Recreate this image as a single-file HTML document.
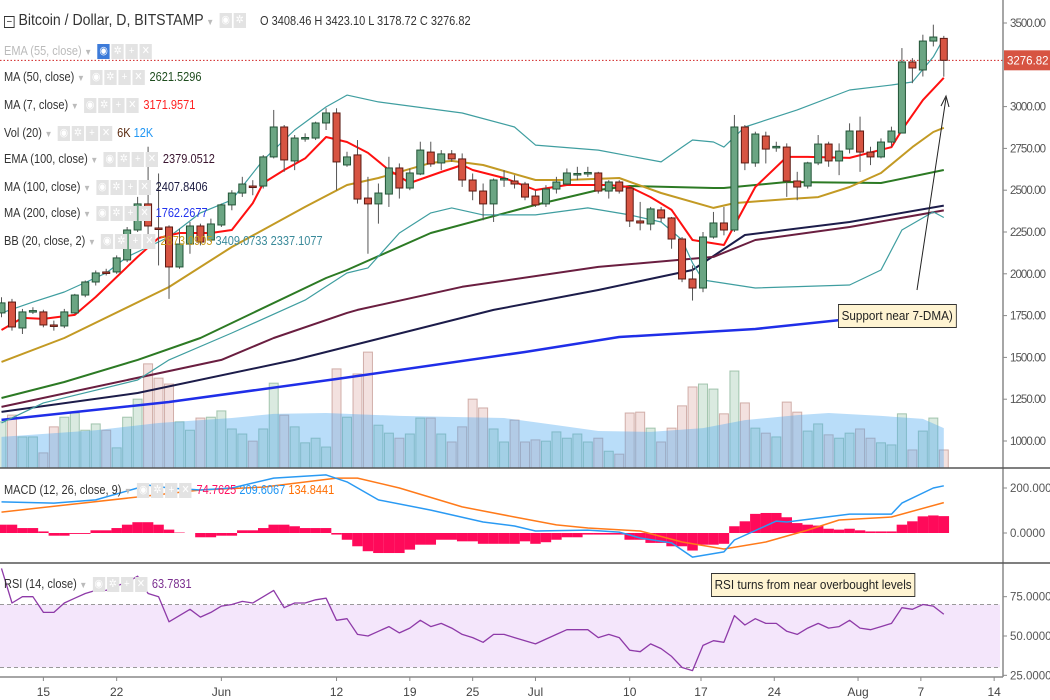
<!DOCTYPE html>
<html><head><meta charset="utf-8"><style>
body{margin:0;background:#fff;}
#wrap{position:relative;width:1050px;height:700px;overflow:hidden;font-family:"Liberation Sans",sans-serif;}
svg{position:absolute;left:0;top:0;}
.lg{position:absolute;font-size:12.5px;color:#333;white-space:nowrap;line-height:14px;transform:scaleX(0.88);transform-origin:left center;}
.bx{display:inline-block;width:14px;height:15px;background:#e3e3e3;margin-right:2px;vertical-align:middle;color:#fff;font-size:11px;text-align:center;line-height:15px;}
.dd{color:#bbb;font-size:9px;margin:0 6px 0 3px;}
.note{position:absolute;background:#fff4d2;border:1px solid #333;font-size:13px;color:#222;padding:0 3px;line-height:22px;transform:scaleX(0.9);transform-origin:left center;}
</style></head><body>
<div id="wrap">
<svg id="svg" width="1050" height="700"></svg>

<div class="lg" style="left:4px;top:12px;font-size:16px;line-height:18px"><span style="border:1px solid #333;font-size:11px;line-height:10px;display:inline-block;width:10px;text-align:center">−</span> Bitcoin / Dollar, D, BITSTAMP<span class="dd">▼</span><span class="bx">◉</span><span class="bx">✲</span></div>
<div class="lg" style="left:260px;top:14px">O 3408.46 H 3423.10 L 3178.72 C 3276.82</div>
<div class="lg" style="left:4px;top:44px;color:#bbb">EMA (55, close)<span class="dd">▼</span><span class="bx" style="background:#3d7bd9">◉</span><span class="bx">✲</span><span class="bx">+</span><span class="bx">✕</span></div>
<div class="lg" style="left:4px;top:70px">MA (50, close)<span class="dd">▼</span><span class="bx">◉</span><span class="bx">✲</span><span class="bx">+</span><span class="bx">✕</span> <span style="color:#1f4d1f">2621.5296</span></div>
<div class="lg" style="left:4px;top:98px">MA (7, close)<span class="dd">▼</span><span class="bx">◉</span><span class="bx">✲</span><span class="bx">+</span><span class="bx">✕</span> <span style="color:#f22">3171.9571</span></div>
<div class="lg" style="left:4px;top:126px">Vol (20)<span class="dd">▼</span><span class="bx">◉</span><span class="bx">✲</span><span class="bx">+</span><span class="bx">✕</span> <span style="color:#5a2a10">6K</span> <span style="color:#2196f3">12K</span></div>
<div class="lg" style="left:4px;top:152px">EMA (100, close)<span class="dd">▼</span><span class="bx">◉</span><span class="bx">✲</span><span class="bx">+</span><span class="bx">✕</span> <span style="color:#3a1530">2379.0512</span></div>
<div class="lg" style="left:4px;top:180px">MA (100, close)<span class="dd">▼</span><span class="bx">◉</span><span class="bx">✲</span><span class="bx">+</span><span class="bx">✕</span> <span style="color:#1a1a40">2407.8406</span></div>
<div class="lg" style="left:4px;top:206px">MA (200, close)<span class="dd">▼</span><span class="bx">◉</span><span class="bx">✲</span><span class="bx">+</span><span class="bx">✕</span> <span style="color:#2233ee">1762.2677</span></div>
<div class="lg" style="left:4px;top:234px">BB (20, close, 2)<span class="dd">▼</span><span class="bx">◉</span><span class="bx">✲</span><span class="bx">+</span><span class="bx">✕</span> <span style="color:#c89a1a">2873.0905</span> <span style="color:#3a8a9a">3409.0733</span> <span style="color:#3a8a9a">2337.1077</span></div>
<div class="lg" style="left:4px;top:483px">MACD (12, 26, close, 9)<span class="dd">▼</span><span class="bx">◉</span><span class="bx">✲</span><span class="bx">+</span><span class="bx">✕</span> <span style="color:#ff1060">74.7625</span> <span style="color:#2196f3">209.6067</span> <span style="color:#ff6d00">134.8441</span></div>
<div class="lg" style="left:4px;top:577px">RSI (14, close)<span class="dd">▼</span><span class="bx">◉</span><span class="bx">✲</span><span class="bx">+</span><span class="bx">✕</span> <span style="color:#7b2f8f">63.7831</span></div>
<div class="note" style="left:838px;top:304px">Support near 7-DMA)</div>
<div class="note" style="left:711px;top:573px">RSI turns from near overbought levels</div>
</div>
<script>
const days=[];for(let d=-4;d<=86;d++)days.push(d);
const opens=[1766,1831,1676,1775,1772,1694,1688,1766,1873,1951,2011,2011,2083,2262,2418,2274,2280,2041,2178,2286,2202,2292,2412,2483,2525,2525,2699,2878,2675,2812,2812,2902,2962,2651,2711,2453,2418,2477,2633,2513,2597,2728,2663,2717,2687,2561,2495,2418,2567,2555,2537,2465,2418,2507,2537,2597,2603,2603,2495,2549,2513,2316,2298,2382,2334,2208,1969,1915,2220,2304,2262,2878,2663,2824,2758,2758,2555,2525,2663,2776,2675,2746,2854,2728,2699,2788,2842,3267,3219,3392,3408];
const closes=[1826,1682,1772,1780,1694,1690,1772,1873,1951,2005,2008,2095,2262,2418,2286,2270,2041,2178,2286,2190,2298,2412,2483,2537,2520,2699,2878,2681,2812,2815,2902,2962,2669,2699,2447,2418,2483,2633,2513,2603,2740,2657,2717,2687,2561,2495,2418,2561,2570,2537,2459,2412,2507,2549,2603,2600,2606,2495,2549,2495,2316,2304,2388,2334,2208,1969,1915,2220,2304,2262,2878,2663,2836,2746,2762,2555,2519,2663,2776,2675,2734,2854,2728,2699,2788,2854,3267,3231,3392,3416,3277];
const highs=[1860,1850,1790,1800,1785,1720,1790,1880,1960,2020,2030,2110,2280,2460,2760,2600,2290,2270,2310,2300,2330,2420,2500,2580,2560,2710,2980,2890,2830,2840,2910,2990,2990,2730,2800,2580,2540,2700,2660,2630,2790,2790,2740,2740,2720,2600,2540,2570,2620,2590,2550,2500,2530,2580,2630,2640,2640,2610,2560,2560,2520,2430,2400,2400,2340,2220,2050,2250,2370,2400,2950,2890,2850,2850,2790,2780,2610,2670,2830,2790,2780,2900,2940,2760,2810,2880,3350,3290,3430,3490,3423];
const lows=[1740,1660,1640,1760,1680,1660,1675,1760,1860,1930,1990,2000,2070,2250,2230,2050,1850,2030,2120,2170,2190,2280,2380,2460,2470,2510,2690,2610,2620,2790,2800,2860,2500,2640,2420,2120,2300,2400,2450,2500,2590,2640,2620,2670,2520,2440,2320,2310,2520,2510,2440,2400,2400,2480,2530,2560,2580,2480,2450,2480,2280,2260,2260,2310,2150,1950,1840,1890,2210,2230,2250,2620,2640,2660,2730,2460,2440,2510,2650,2640,2590,2720,2610,2650,2690,2760,2840,3140,3180,3360,3179];
const volumes=[11.0,12.6,7.4,7.4,3.6,9.8,12.1,13.1,9.0,10.5,9.0,4.8,12.1,16.4,24.8,21.4,20.0,11.0,9.0,11.9,12.1,13.6,9.3,8.1,6.4,9.3,20.2,12.6,9.8,6.0,7.1,5.0,23.6,12.1,22.4,27.6,10.2,8.3,7.1,8.1,11.9,11.9,8.1,6.2,9.8,16.4,14.3,9.3,6.2,11.4,6.2,6.7,6.4,8.6,7.1,8.1,6.2,7.1,4.0,3.3,13.1,13.3,9.5,6.2,9.5,14.8,19.3,20.0,18.8,12.9,23.1,15.5,9.5,8.3,7.4,15.7,13.3,8.8,10.5,7.9,7.1,8.3,9.3,7.1,6.0,5.5,12.9,4.3,8.8,11.9,4.3];
const volMA=[[-4,7.4],[5,9.0],[11,10.7],[18,11.9],[22,12.9],[27,13.1],[34,12.4],[44,11.9],[49,10.2],[53,8.8],[58,8.6],[63,9.5],[67,11.4],[72,12.6],[75,13.1],[80,12.4],[84,11.7],[86,9.5]];
const ma7=[[-4,1664],[-2,1736],[0,1730],[3,1754],[5,1861],[9,2101],[11,2214],[13,2244],[16,2244],[18,2262],[20,2423],[21,2543],[23,2621],[25,2690],[27,2818],[29,2788],[31,2723],[33,2621],[35,2543],[38,2609],[40,2651],[41,2621],[44,2573],[47,2501],[50,2531],[54,2531],[56,2519],[58,2459],[60,2382],[62,2202],[65,2172],[68,2519],[71,2699],[73,2699],[77,2693],[81,2758],[82,2860],[84,3039],[86,3172]];
const bbMid=[[-4,1473],[2,1616],[12,1921],[18,2160],[25,2400],[29,2531],[32,2573],[37,2663],[39,2675],[42,2651],[47,2561],[50,2561],[55,2573],[59,2483],[64,2394],[66,2423],[71,2447],[74,2459],[77,2519],[80,2603],[83,2758],[85,2848],[86,2873]];
const bbUp=[[-4,1766],[-1,1831],[2,1891],[6,2005],[8,2101],[12,2220],[15,2364],[18,2442],[21,2681],[24,2860],[27,2998],[29,3069],[32,3028],[40,2962],[45,2878],[47,2770],[53,2740],[59,2669],[61,2758],[62,2800],[64,2788],[65,2758],[67,2878],[72,2980],[77,3099],[81,3129],[83,3147],[85,3297],[86,3409]];
const bbLow=[[-4,1108],[0,1228],[9,1365],[12,1485],[18,1646],[25,1843],[29,2005],[31,2035],[34,2244],[37,2364],[39,2394],[42,2352],[47,2352],[52,2394],[56,2352],[59,2310],[61,2202],[62,2065],[63,1963],[68,1915],[77,1933],[80,2023],[82,2262],[85,2370],[86,2337]];
const ma50=[[-4,1257],[2,1353],[9,1485],[15,1616],[27,1975],[29,2023],[37,2244],[47,2412],[53,2501],[56,2525],[64,2513],[65,2513],[71,2549],[80,2543],[86,2621]];
const ema100=[[-4,1204],[17,1485],[22,1616],[29,1766],[30,1784],[40,1922],[53,2041],[64,2101],[68,2202],[77,2280],[86,2379]];
const ma100=[[-4,1174],[9,1287],[24,1485],[43,1784],[53,1903],[62,2023],[67,2232],[77,2310],[86,2408]];
const ma200=[[-4,1126],[12,1233],[28,1371],[46,1532],[55,1622],[68,1670],[79,1742],[86,1762]];
const macdLine=[[-4,138],[1,133],[5,147],[9,200],[10,213],[12,200],[15,191],[18,200],[22,244],[27,258],[29,227],[32,147],[37,102],[42,49],[45,31],[47,9],[52,13],[55,4],[57,-22],[60,-44],[62,-107],[65,-84],[66,-31],[70,53],[71,49],[77,84],[81,84],[82,133],[85,200],[86,210]];
const signalLine=[[-4,93],[2,124],[9,160],[15,191],[21,204],[28,244],[30,244],[34,200],[40,116],[45,71],[49,36],[52,22],[57,9],[61,-40],[65,-71],[69,-40],[73,13],[76,58],[81,71],[86,135]];
const macdHist=[37,37,22,22,7,-12,-12,-4,-4,12,12,22,37,48,48,37,15,2,0,-19,-19,-12,-12,12,12,22,37,37,30,22,22,22,-7,-30,-59,-81,-89,-89,-89,-74,-52,-52,-30,-30,-37,-37,-48,-48,-48,-48,-37,-48,-41,-30,-19,-19,-7,-7,-7,-7,-30,-30,-44,-44,-59,-59,-78,-52,-52,-48,30,52,85,89,89,70,44,37,33,19,15,19,12,7,7,7,37,52,74,78,75];
const rsi=[93,71,75,75,65,65,71,74,77,79,79,82,84,88,77,75,59,63,67,62,65,69,70,72,71,75,79,68,71,71,73,74,60,61,51,50,53,56,52,55,60,56,58,55,51,49,46,51,51,49,47,45,48,51,54,54,54,49,51,49,41,40,45,42,37,30,28,44,47,46,63,57,61,58,58,53,51,55,58,55,56,60,55,54,56,58,68,67,70,69,63.8];
const priceTicks=[3500,3000,2750,2500,2250,2000,1750,1500,1250,1000];
const macdTicks=[200,0];
const rsiTicks=[75,50,25];
const dateLabels=[["15",0],["22",7],["Jun",17],["12",28],["19",35],["25",41],["Jul",47],["10",56],["17",63],["24",70],["Aug",78],["7",84],["14",91]];
const lastPrice=3276.82;

const NS="http://www.w3.org/2000/svg";
const svg=document.getElementById('svg');
const xD=d=>1.5+(d+4)*10.47;
const yP=p=>23+(3500-p)*0.1672;
const yV=v=>468-v*4.2;
const yM=v=>533-v*0.225;
const yR=v=>636-(v-50)*1.573;
function el(tag,attrs,parent){const e=document.createElementNS(NS,tag);for(const k in attrs)e.setAttribute(k,attrs[k]);(parent||svg).appendChild(e);return e;}
function g(name){const e=el('g',{});return e;}

// RSI band
const rb=g('rsi-band');
el('rect',{x:0,y:yR(70),width:1000,height:yR(30)-yR(70),fill:'#f4e6fb'},rb);
el('line',{x1:0,x2:1000,y1:yR(70),y2:yR(70),stroke:'#999','stroke-dasharray':'4,3'},rb);
el('line',{x1:0,x2:1000,y1:yR(30),y2:yR(30),stroke:'#999','stroke-dasharray':'4,3'},rb);

// volume bars
const vg=g('volume-bars');
volumes.forEach((v,i)=>{const up=closes[i]>=opens[i];
 const r=el('rect',{x:xD(days[i])-4.5,y:yV(v),width:9,height:468-yV(v),fill:up?'rgba(107,170,130,0.25)':'rgba(200,120,110,0.22)',stroke:up?'rgba(90,150,110,0.5)':'rgba(170,110,100,0.5)','stroke-width':1},vg);
 });
// volume MA area
let va='M'+xD(volMA[0][0])+',468 '+volMA.map(p=>'L'+xD(p[0])+','+yV(p[1])).join(' ')+' L'+xD(volMA[volMA.length-1][0])+',468 Z';
const vArea=el('path',{d:va,fill:'rgba(80,170,240,0.4)',stroke:'none'});


function line(pts,fx,fy,color,w,name){const p=el('path',{d:pts.map((q,i)=>(i?'L':'M')+fx(q[0]).toFixed(1)+','+fy(q[1]).toFixed(1)).join(' '),fill:'none',stroke:color,'stroke-width':w,'stroke-linejoin':'round'});return p;}
line(ma200,xD,yP,'#1f2ee8',2.5,'ma200-line');
line(ma100,xD,yP,'#1c1c4a',2,'ma100-line');
line(ema100,xD,yP,'#6a1e40',2,'ema100-line');
line(ma50,xD,yP,'#2c7a24',2,'ma50-line');
line(bbUp,xD,yP,'#3f9ea0',1.2,'bb-upper');
line(bbLow,xD,yP,'#3f9ea0',1.2,'bb-lower');
line(bbMid,xD,yP,'#c39a24',2,'bb-basis');
line(ma7,xD,yP,'#ff1010',2,'ma7-line');

// last price line
const lp=el('line',{x1:0,x2:1003,y1:yP(lastPrice),y2:yP(lastPrice),stroke:'#d02020','stroke-dasharray':'1.5,2','stroke-width':1});


// candles
const cg=g('candles');
days.forEach((d,i)=>{const up=closes[i]>=opens[i];const x=xD(d);
 el('line',{x1:x,x2:x,y1:yP(highs[i]),y2:yP(lows[i]),stroke:'#555','stroke-width':1},cg);
 const top=yP(Math.max(opens[i],closes[i])),bot=yP(Math.min(opens[i],closes[i]));
 const r=el('rect',{x:x-3.5,y:top,width:7,height:Math.max(bot-top,1.5),fill:up?'#6ba583':'#d75442',stroke:up?'#225437':'#5b1a13','stroke-width':1},cg);
 });

// arrow annotation
el('line',{x1:917,y1:290,x2:946,y2:98,stroke:'#222','stroke-width':1});
el('path',{d:'M941,106 L946,96 L949,107',fill:'none',stroke:'#222','stroke-width':1});

// MACD
const hg=g('macd-histogram');
macdHist.forEach((v,i)=>{const y=yM(v);const r=el('rect',{x:xD(days[i])-5.25,y:Math.min(y,yM(0)),width:10.5,height:Math.abs(y-yM(0)),fill:'#ff0a5a'},hg);
 });
line(signalLine,xD,yM,'#ff7a1a',1.5,'macd-signal-line');
line(macdLine,xD,yM,'#2a9af3',1.5,'macd-line');
// RSI
line(rsi.map((v,i)=>[days[i],v]),xD,yR,'#8e3aa8',1.3,'rsi-line');

// frames
const fr=g('panel-frames');
el('line',{x1:1003,x2:1003,y1:0,y2:677,stroke:'#888','stroke-width':1.5},fr);
[468,563].forEach(y=>el('line',{x1:0,x2:1050,y1:y,y2:y,stroke:'#555','stroke-width':1.5},fr));
el('line',{x1:0,x2:1003,y1:677,y2:677,stroke:'#888','stroke-width':1.5},fr);
// axes
const ax=g('price-axis');
priceTicks.forEach(t=>{el('line',{x1:1003,x2:1007,y1:yP(t),y2:yP(t),stroke:'#888'},ax);
 const tx=el('text',{x:1010,y:yP(t)+4,'font-size':11.5,fill:'#555','font-family':'Liberation Sans, sans-serif',textLength:36},ax);tx.textContent=t.toFixed(2);});
const mx=g('macd-axis');
macdTicks.forEach(t=>{el('line',{x1:1003,x2:1007,y1:yM(t),y2:yM(t),stroke:'#888'},mx);
 const tx=el('text',{x:1010,y:yM(t)+4,'font-size':11.5,fill:'#555','font-family':'Liberation Sans, sans-serif'},mx);tx.textContent=t.toFixed(4);});
const rx=g('rsi-axis');
rsiTicks.forEach(t=>{el('line',{x1:1003,x2:1007,y1:yR(t),y2:yR(t),stroke:'#888'},rx);
 const tx=el('text',{x:1010,y:yR(t)+4,'font-size':11.5,fill:'#555','font-family':'Liberation Sans, sans-serif'},rx);tx.textContent=t.toFixed(4);});
// price tag
const pt=el('rect',{x:1004,y:yP(lastPrice)-10,width:46,height:20,fill:'#d75442'});

const ptt=el('text',{x:1007,y:yP(lastPrice)+4,'font-size':11.5,fill:'#fff','font-family':'Liberation Sans, sans-serif'});ptt.textContent=lastPrice.toFixed(2);
// date axis
const dx=g('date-axis');
dateLabels.forEach(l=>{const x=xD(l[1])-(l[1]>60?2:0);el('line',{x1:x,x2:x,y1:677,y2:681,stroke:'#888'},dx);
 const tx=el('text',{x:x,y:696,'font-size':12,fill:'#444','text-anchor':'middle','font-family':'Liberation Sans, sans-serif'},dx);tx.textContent=l[0];});
</script>
</body></html>
